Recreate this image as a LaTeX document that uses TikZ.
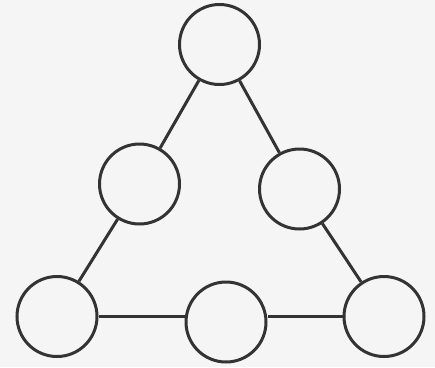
\documentclass[tikz,border=0pt]{standalone}
\usepackage{tikz}
\begin{document}
\begin{tikzpicture}[x=1pt,y=-1pt,
  ring/.style={circle,draw=black!80,line width=3pt,minimum size=80pt,inner sep=0pt},
  link/.style={draw=black!80,line width=3pt}]
\useasboundingbox[fill=black!4] (0,0) rectangle (435,367);
\node[ring] (t)  at (219.5,44.5) {};
\node[ring] (ml) at (139.5,184) {};
\node[ring] (mr) at (299.5,189) {};
\node[ring] (bl) at (57,316.5) {};
\node[ring] (bm) at (226,322) {};
\node[ring] (br) at (384,316.5) {};
\draw[link] (t) -- (ml);
\draw[link] (t) -- (mr);
\draw[link] (ml) -- (bl);
\draw[link] (mr) -- (br);
\draw[link] (bl.east) -- (bl.east -| bm.west);
\draw[link] (br.west) -- (br.west -| bm.east);
\end{tikzpicture}
\end{document}
